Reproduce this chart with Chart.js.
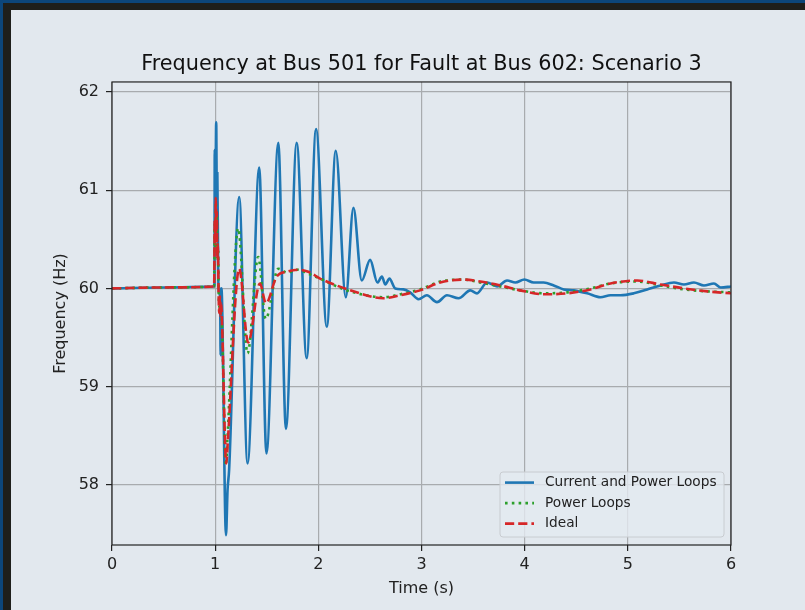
<!DOCTYPE html>
<html>
<head>
<meta charset="utf-8">
<script src="https://cdn.jsdelivr.net/npm/chart.js@4.4.1/dist/chart.umd.min.js"></script>
<style>
    body { margin: 0; width: 805px; height: 610px; overflow: hidden; background: #1e1f1b; position: relative; }
    #stripTop { position: absolute; left: 0; top: 0; width: 805px; height: 3px; background: #0c467a; }
    #stripLeft { position: absolute; left: 0; top: 0; width: 3px; height: 610px; background: #0c467a; }
    #frame { position: absolute; left: 11px; top: 10px; width: 794px; height: 600px; background: #e2e8ee; }
    #chart { display: block; }
</style>
</head>
<body>
<div id="stripTop"></div>
<div id="stripLeft"></div>
<div id="frame"><canvas id="chart" width="794" height="600"></canvas></div>
<script>
// Current and Power Loops (blue)
const currentPowerTime = [0, 0.5, 0.99, 0.993, 0.996, 1.002, 1.010, 1.016, 1.021, 1.030, 1.040, 1.048,
    1.053, 1.058, 1.066, 1.105, 1.120, 1.135, 1.233, 1.314, 1.427, 1.497, 1.612, 1.686, 1.790, 1.887,
    1.978, 2.082, 2.169, 2.266, 2.340, 2.421, 2.502, 2.573, 2.616, 2.650, 2.689, 2.745, 2.825, 2.890,
    2.971, 3.052, 3.150, 3.247, 3.359, 3.473, 3.538, 3.635, 3.732, 3.829, 3.910, 3.997, 4.087, 4.184,
    4.282, 4.379, 4.476, 4.606, 4.735, 4.832, 4.929, 5.058, 5.188, 5.317, 5.447, 5.544, 5.641, 5.738,
    5.835, 5.900, 6.0];
const currentPowerFreq = [60.00, 60.01, 60.02, 60.05, 61.41, 60.90, 61.69, 60.90, 61.17, 60.10, 59.95, 59.90,
    59.32, 60.00, 59.90, 57.49, 57.95, 58.15, 60.93, 58.22, 61.23, 58.32, 61.48, 58.57, 61.48, 59.29,
    61.62, 59.61, 61.40, 59.91, 60.82, 60.08, 60.29, 60.06, 60.12, 60.04, 60.10, 60.00, 59.99, 59.96,
    59.89, 59.93, 59.86, 59.93, 59.90, 59.98, 59.95, 60.06, 60.02, 60.08, 60.06, 60.09, 60.06, 60.06,
    60.03, 59.99, 59.98, 59.95, 59.91, 59.93, 59.93, 59.95, 59.99, 60.03, 60.06, 60.04, 60.06, 60.03,
    60.05, 60.01, 60.02];

// Power Loops (green)
const powerLoopsTime = [0, 0.5, 0.99, 0.996, 1.003, 1.007, 1.012, 1.017, 1.022, 1.028, 1.035, 1.045,
    1.055, 1.065, 1.104, 1.118, 1.223, 1.314, 1.417, 1.490, 1.612, 1.700, 1.800, 1.903, 2.017, 2.178,
    2.340, 2.630, 2.793, 2.987, 3.181, 3.408, 3.570, 3.764, 3.958, 4.184, 4.412, 4.638, 4.832, 5.091,
    5.317, 5.544, 5.771, 6.0];
const powerLoopsFreq = [60.00, 60.01, 60.02, 60.65, 60.40, 60.88, 60.50, 60.75, 60.30, 60.40, 59.90, 59.80,
    59.75, 59.65, 58.20, 58.45, 60.61, 59.34, 60.32, 59.69, 60.20, 60.16, 60.19, 60.15, 60.10, 60.02,
    59.96, 59.91, 59.94, 59.99, 60.07, 60.09, 60.06, 60.02, 59.98, 59.95, 59.96, 60.00, 60.05, 60.07,
    60.03, 59.99, 59.97, 59.96];

// Ideal (red)
const idealTime = [0, 0.5, 0.99, 0.996, 1.001, 1.006, 1.011, 1.016, 1.021, 1.026, 1.033, 1.040,
    1.046, 1.052, 1.058, 1.065, 1.108, 1.120, 1.233, 1.320, 1.434, 1.492, 1.596, 1.693, 1.806, 1.903,
    2.017, 2.178, 2.340, 2.630, 2.793, 2.987, 3.181, 3.408, 3.570, 3.764, 3.958, 4.184, 4.412, 4.638,
    4.832, 5.091, 5.317, 5.544, 5.771, 6.0];
const idealFreq = [60.00, 60.01, 60.02, 60.70, 60.45, 60.92, 60.50, 60.78, 60.30, 60.45, 59.95, 59.75,
    59.92, 59.72, 59.85, 59.70, 58.22, 58.40, 60.20, 59.45, 60.05, 59.85, 60.12, 60.17, 60.19, 60.17,
    60.10, 60.03, 59.97, 59.90, 59.93, 59.98, 60.06, 60.09, 60.07, 60.03, 59.98, 59.94, 59.95, 59.99,
    60.05, 60.08, 60.04, 60.00, 59.97, 59.95];

const xTicks = [0, 1, 2, 3, 4, 5, 6];
const yTicks = [58, 59, 60, 61, 62];

const toPoints = (xs, ys) => xs.map((x, i) => ({x: x, y: ys[i]}));

Chart.defaults.font.family = "'DejaVu Sans', sans-serif";
Chart.defaults.color = "#222";

// matplotlib-like box around the axes
const spines = {
    id: "spines",
    afterDatasetsDraw(chart) {
        const {ctx, chartArea} = chart;
        ctx.save();
        ctx.strokeStyle = "#222";
        ctx.lineWidth = 1.2;
        ctx.strokeRect(chartArea.left, chartArea.top, chartArea.right - chartArea.left, chartArea.bottom - chartArea.top);
        ctx.restore();
    }
};

const legendBox = {
    id: "legendBox",
    afterDatasetsDraw(chart) {
        const {ctx, chartArea} = chart;
        const w = 224, h = 65;
        const x = chartArea.right - 7 - w;
        const y = chartArea.bottom - 8 - h;
        ctx.save();
        ctx.beginPath();
        ctx.roundRect(x, y, w, h, 3);
        ctx.fillStyle = "rgba(228,234,240,0.8)";
        ctx.fill();
        ctx.strokeStyle = "#c8ccd0";
        ctx.lineWidth = 1;
        ctx.stroke();
        ctx.font = "13.7px 'DejaVu Sans'";
        ctx.textBaseline = "middle";
        chart.data.datasets.forEach((ds, i) => {
            const cy = y + 10.6 + i * 20.5;
            ctx.beginPath();
            ctx.setLineDash(ds.borderDash || []);
            ctx.strokeStyle = ds.borderColor;
            ctx.lineWidth = ds.borderWidth;
            ctx.moveTo(x + 5, cy);
            ctx.lineTo(x + 34, cy);
            ctx.stroke();
            ctx.setLineDash([]);
            ctx.fillStyle = "#222";
            ctx.fillText(ds.label, x + 45, cy);
        });
        ctx.restore();
    }
};

new Chart(document.getElementById("chart"), {
    type: "line",
    data: {
        datasets: [
            {
                label: "Current and Power Loops",
                data: toPoints(currentPowerTime, currentPowerFreq),
                borderColor: "#1f77b4",
                borderWidth: 2.6,
                cubicInterpolationMode: "monotone",
                order: 3,
            },
            {
                label: "Power Loops",
                data: toPoints(powerLoopsTime, powerLoopsFreq),
                borderColor: "#2ca02c",
                borderWidth: 2.6,
                borderDash: [2.6, 4.2],
                cubicInterpolationMode: "monotone",
                order: 2,
            },
            {
                label: "Ideal",
                data: toPoints(idealTime, idealFreq),
                borderColor: "#d62728",
                borderWidth: 2.6,
                borderDash: [9.2, 4],
                cubicInterpolationMode: "monotone",
                order: 1,
            },
        ],
    },
    options: {
        responsive: false,
        devicePixelRatio: 1,
        animation: false,
        elements: {point: {radius: 0}},
        layout: {padding: {left: 0, right: 74, top: 0, bottom: 0}},
        plugins: {
            legend: {display: false},
            tooltip: {enabled: false},
            title: {
                display: true,
                fullSize: false,
                text: "Frequency at Bus 501 for Fault at Bus 602: Scenario 3",
                color: "#111",
                font: {size: 20.8, weight: "normal"},
                padding: {top: 42, bottom: 5},
            },
        },
        scales: {
            x: {
                type: "linear",
                min: 0,
                max: 6,
                afterBuildTicks: (axis) => { axis.ticks = xTicks.map(v => ({value: v})); },
                afterFit: (axis) => { axis.height = 65; },
                ticks: {font: {size: 16}, padding: 4, maxRotation: 0},
                grid: {color: "#a8abae", lineWidth: 1.2, tickLength: 6, tickColor: "#222", tickWidth: 1.2},
                border: {display: false},
                title: {display: true, text: "Time (s)", font: {size: 16}, padding: {top: 0, bottom: 12}},
            },
            y: {
                type: "linear",
                min: 57.39,
                max: 62.1,
                afterBuildTicks: (axis) => { axis.ticks = yTicks.map(v => ({value: v})); },
                afterFit: (axis) => { axis.width = 101; },
                ticks: {font: {size: 16}, padding: 7},
                grid: {color: "#a8abae", lineWidth: 1.2, tickLength: 6, tickColor: "#222", tickWidth: 1.2},
                border: {display: false},
                title: {display: true, text: "Frequency (Hz)", font: {size: 16}, padding: {top: 40, bottom: 0}},
            },
        },
    },
    plugins: [spines, legendBox],
});
</script>
</body>
</html>
